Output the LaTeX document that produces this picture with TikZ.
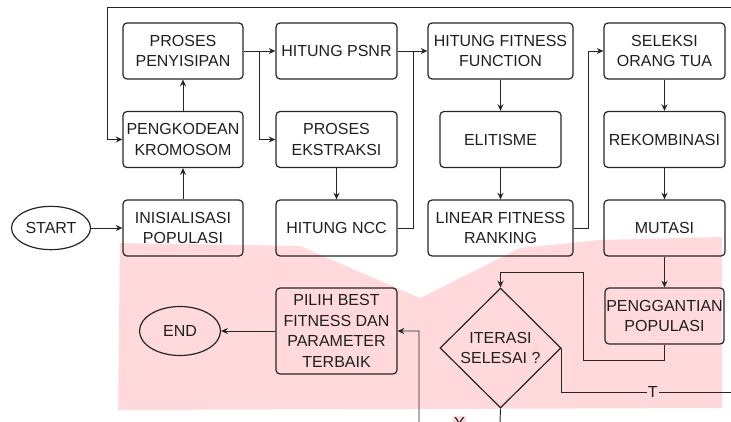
\documentclass[tikz,border=0pt]{standalone}
\usepackage{fontspec}
\setmainfont{Liberation Sans}
\usetikzlibrary{arrows.meta,shapes.geometric}
\definecolor{pinkbg}{RGB}{255,217,220}
\definecolor{garisclr}{RGB}{38,38,38}
\tikzset{
  prosesbox/.style={draw=garisclr, rounded corners=3pt, line width=0.9pt, align=center, minimum width=90pt, minimum height=42pt, inner sep=1pt, text=black!88, font=\fontsize{12}{15.5}\selectfont},
  terminal/.style={draw=garisclr, ellipse, line width=0.9pt, inner sep=0pt, text=black!88, font=\fontsize{12}{15.5}\selectfont},
  keputusan/.style={draw=garisclr, diamond, line width=0.9pt, inner sep=0pt, align=center, minimum width=90.75pt, minimum height=90pt, text=black!88, font=\fontsize{12}{15.5}\selectfont},
  panah/.style={draw=garisclr, line width=0.7pt, -{Stealth[length=5pt,width=4.5pt]}},
  garis/.style={draw=garisclr, line width=0.7pt},
  labelgaris/.style={fill=pinkbg, inner sep=1pt, text=black!88, font=\fontsize{12}{15.5}\selectfont}
}
\begin{document}
\begin{tikzpicture}[x=0.75pt,y=0.75pt,yscale=-1,xscale=1]
        \path[use as bounding box, clip] (0,0) rectangle (731,421);
        % latar merah muda
        \fill[pinkbg] (120,243) -- (300,246) -- (420,298) -- (520,248) -- (600,240) -- (722,237) -- (722,408) -- (118,410) -- cycle;
        % kolom 1
        \node[terminal, minimum width=59.25pt, minimum height=32.5pt] (start) at (51,228) {START};
        \node[prosesbox] (init) at (183,228) {INISIALISASI\\POPULASI};
        \node[prosesbox] (kode) at (183,139.5) {PENGKODEAN\\KROMOSOM};
        \node[prosesbox] (pos) at (183,51) {PROSES\\PENYISIPAN};
        % kolom 2
        \node[prosesbox, minimum width=90.75pt] (psnr) at (336.5,51) {HITUNG PSNR};
        \node[prosesbox, minimum width=90.75pt] (ekstr) at (336.5,139.5) {PROSES\\EKSTRAKSI};
        \node[prosesbox, minimum width=90.75pt] (ncc) at (336.5,228) {HITUNG NCC};
        % kolom 3
        \node[prosesbox, minimum width=108.75pt] (fit) at (500.5,51) {HITUNG FITNESS\\FUNCTION};
        \node[prosesbox, minimum width=90.75pt] (elit) at (500.5,139.5) {ELITISME};
        \node[prosesbox, minimum width=108.75pt] (linear) at (500.5,228) {LINEAR FITNESS\\RANKING};
        % kolom 4
        \node[prosesbox, minimum width=90.75pt] (seleksi) at (664.5,51) {SELEKSI\\ORANG TUA};
        \node[prosesbox, minimum width=90.75pt] (rekom) at (664.5,139.5) {REKOMBINASI};
        \node[prosesbox, minimum width=90.75pt] (mutasi) at (664.5,228) {MUTASI};
        \node[prosesbox, minimum width=89.25pt] (ganti) at (664.5,316) {PENGGANTIAN\\POPULASI};
        % bawah
        \node[keputusan] (iter) at (500.5,348) {ITERASI\\SELESAI ?};
        \node[prosesbox, minimum width=90.75pt, minimum height=64.5pt] (pilih) at (336.5,331) {PILIH BEST\\FITNESS DAN\\PARAMETER\\TERBAIK};
        \node[terminal, minimum width=60.75pt, minimum height=36.75pt] (selesai) at (180,331) {END};
        % titik belok
        \coordinate (cabang1) at (259,51);
        \coordinate (cabang2) at (413,51);
        \coordinate (cabang3) at (588,51);
        \coordinate (belok1) at (583,360);
        \coordinate (belok2) at (583,272);
        \coordinate (luarT) at (760,392);
        \coordinate (luarA) at (760,7);
        \coordinate (kiriA) at (107,7);
        \coordinate (bawahY) at (500,423);
        \coordinate (kiriY) at (419,423);
        % panah
        \draw[panah] (start) -- (init);
        \draw[panah] (init) -- (kode);
        \draw[panah] (kode) -- (pos);
        \draw[panah] (pos.east) -- (psnr.west);
        \draw[panah] (cabang1) |- (ekstr.west);
        \draw[panah] (ekstr) -- (ncc);
        \draw[panah] (psnr.east) -- (fit.west);
        \draw[garis] (ncc.east) -| (cabang2);
        \draw[panah] (fit) -- (elit);
        \draw[panah] (elit) -- (linear);
        \draw[panah] (linear.east) -| (cabang3) -- (seleksi.west);
        \draw[panah] (seleksi) -- (rekom);
        \draw[panah] (rekom) -- (mutasi);
        \draw[panah] (mutasi) -- (ganti);
        \draw[panah] (ganti.south) |- (belok1) -- (belok2) -| (iter.north);
        \draw[panah] (iter.east) |- (luarT) node[labelgaris, pos=0.73] {T} -- (luarA) -- (kiriA) |- (kode.west);
        \draw[panah] (iter.south) -- (bawahY) -- node[labelgaris] {Y} (kiriY) |- (pilih.east);
        \draw[panah] (pilih.west) -- (selesai.east);
\end{tikzpicture}
\end{document}
